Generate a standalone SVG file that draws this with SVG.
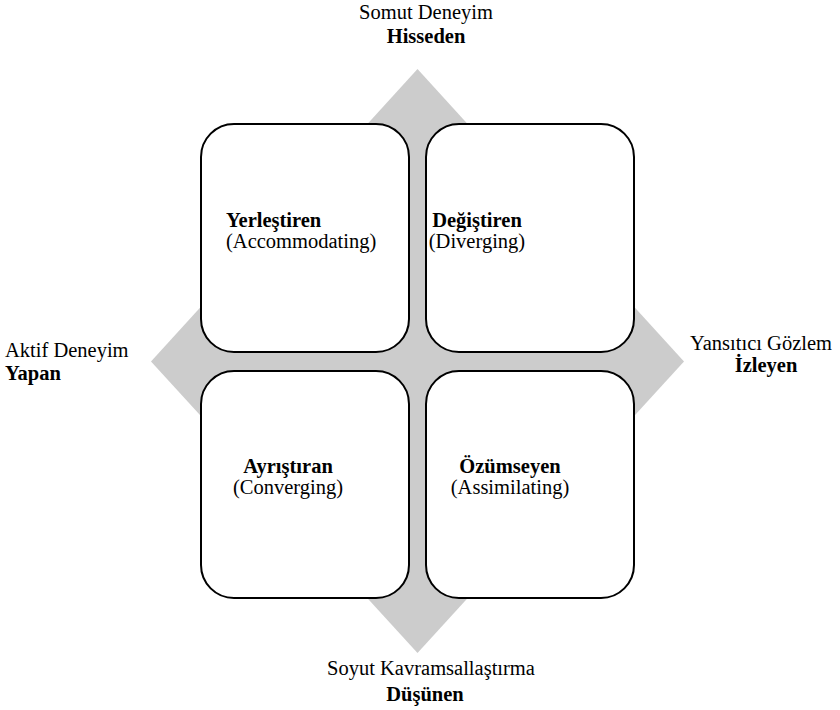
<svg xmlns="http://www.w3.org/2000/svg" width="840" height="710" viewBox="0 0 840 710">
<style>
.t{font-family:'Liberation Serif','Times New Roman',serif;font-size:20.5px;fill:#000}
.b{font-weight:bold}
.m{text-anchor:middle}
.box{fill:#fff;stroke:#000;stroke-width:2}
</style>
<rect width="840" height="710" fill="#fff"/>
<g id="connectors">
<polygon points="417.5,69 684,361.5 417.5,653 151,361.5" fill="#cccccc"/>
</g>
<g id="label-top" class="t">
<text class="m" x="426" y="19">Somut Deneyim</text>
<text class="m b" x="426" y="43">Hisseden</text>
</g>
<g id="label-left" class="t">
<text x="5" y="357">Aktif Deneyim</text>
<text class="b" x="5" y="380">Yapan</text>
</g>
<g id="label-right" class="t">
<text class="m" x="761" y="350">Yansıtıcı Gözlem</text>
<text class="m b" x="766" y="372">İzleyen</text>
</g>
<g id="label-bottom" class="t">
<text class="m" x="431" y="675">Soyut Kavramsallaştırma</text>
<text class="m b" x="425" y="701">Düşünen</text>
</g>
<g id="node-accommodating" class="t">
<rect class="box" x="201" y="124" width="208" height="228" rx="33"/>
<text class="b" x="226" y="226.5">Yerleştiren</text>
<text x="226" y="248">(Accommodating)</text>
</g>
<g id="node-diverging" class="t">
<rect class="box" x="426" y="124" width="208" height="228" rx="33"/>
<text class="m b" x="477" y="226.5">Değiştiren</text>
<text class="m" x="477" y="248">(Diverging)</text>
</g>
<g id="node-converging" class="t">
<rect class="box" x="201" y="371" width="208" height="227" rx="33"/>
<text class="m b" x="288" y="472.5">Ayrıştıran</text>
<text class="m" x="288" y="494">(Converging)</text>
</g>
<g id="node-assimilating" class="t">
<rect class="box" x="426" y="371" width="208" height="227" rx="33"/>
<text class="m b" x="510" y="472.5">Özümseyen</text>
<text class="m" x="510" y="494">(Assimilating)</text>
</g>
</svg>
